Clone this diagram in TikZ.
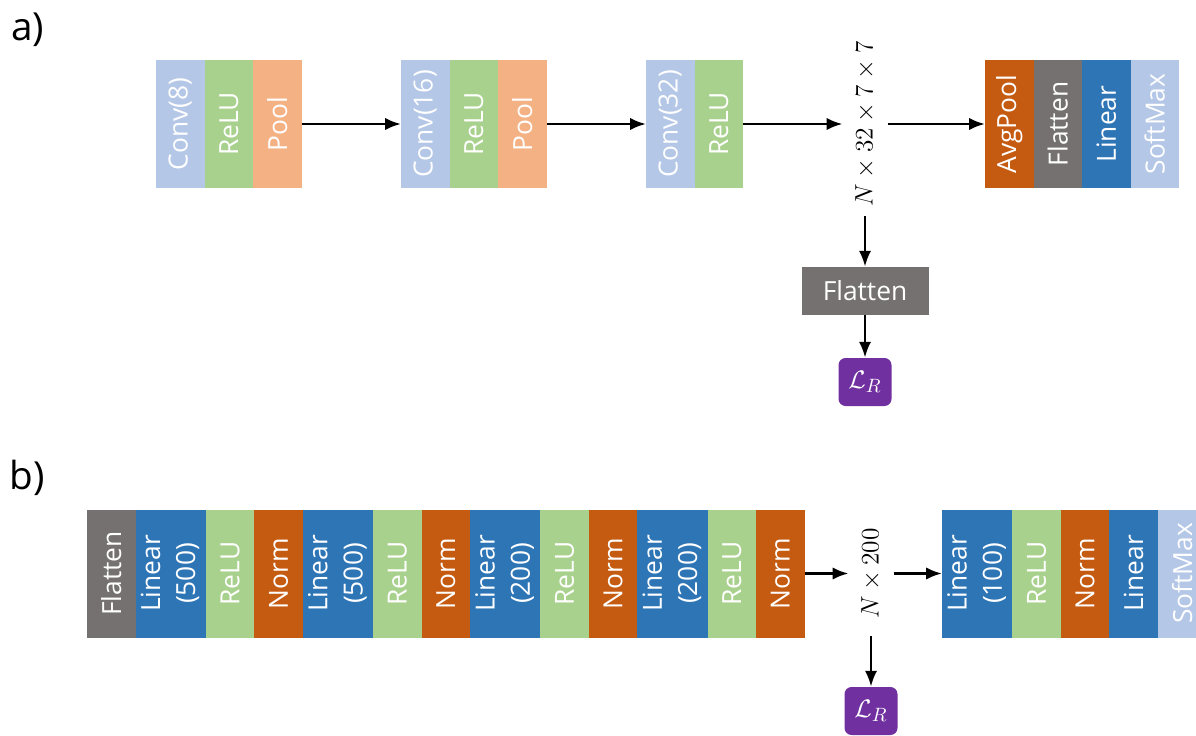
\documentclass[tikz,border=0pt]{standalone}
\usepackage{fontspec}
\setmainfont{Open Sans}
\usepackage{amsmath}
\usepackage{graphicx}
\usepackage{tikz}
\usetikzlibrary{positioning,arrows.meta}

\definecolor{convblue}{HTML}{B4C7E7}
\definecolor{relugreen}{HTML}{A9D18E}
\definecolor{poolorange}{HTML}{F4B183}
\definecolor{normorange}{HTML}{C55A11}
\definecolor{flatgray}{HTML}{767171}
\definecolor{linblue}{HTML}{2E75B6}
\definecolor{losspurple}{HTML}{7030A0}

\newcommand{\vlab}[1]{\rotatebox{90}{#1}}
\newcommand{\vtwo}[2]{\rotatebox{90}{\begin{tabular}{@{}c@{}}#1\\#2\end{tabular}}}

\tikzset{
    layer/.style={minimum width=0.97cm, minimum height=2.56cm, inner sep=0pt, outer sep=0pt,
        text=white, font=\fontsize{15}{20}\selectfont},
    widelayer/.style={layer, minimum width=1.4cm},
    dimtxt/.style={minimum width=0.9cm, inner sep=0pt, outer sep=0pt, font=\fontsize{15}{18}\selectfont},
    loss/.style={fill=losspurple, rounded corners=4pt, minimum width=1.06cm, minimum height=0.96cm,
        inner sep=0pt, text=white, font=\fontsize{15}{18}\selectfont},
    arr/.style={->, line width=1.5pt, >={Latex[length=9pt,width=7pt]}},
    panel/.style={font=\fontsize{22}{26}\selectfont}
}

\begin{document}
\begin{tikzpicture}
                \useasboundingbox (0,0) rectangle (23.92,-14.72);

                % a)
                \node[panel] (laba) at (0.55,-0.6) {a)};

                \node[layer, fill=convblue, anchor=west] (conva) at (3.12,-2.48) {\vlab{Conv(8)}};
                \node[layer, fill=relugreen, right=0pt of conva] (relua) {\vlab{ReLU}};
                \node[layer, fill=poolorange, right=0pt of relua] (poola) {\vlab{Pool}};

                \node[layer, fill=convblue, anchor=west] (convb) at (8.02,-2.48) {\vlab{Conv(16)}};
                \node[layer, fill=relugreen, right=0pt of convb] (relub) {\vlab{ReLU}};
                \node[layer, fill=poolorange, right=0pt of relub] (poolb) {\vlab{Pool}};

                \node[layer, fill=convblue, anchor=west] (convc) at (12.92,-2.48) {\vlab{Conv(32)}};
                \node[layer, fill=relugreen, right=0pt of convc] (reluc) {\vlab{ReLU}};

                \node[dimtxt] (dima) at (17.3,-2.48) {\vlab{$N\times 32\times 7\times 7$}};

                \node[layer, fill=normorange, anchor=west] (avgpool) at (19.7,-2.48) {\vlab{AvgPool}};
                \node[layer, fill=flatgray, right=0pt of avgpool] (flatc) {\vlab{Flatten}};
                \node[layer, fill=linblue, right=0pt of flatc] (linc) {\vlab{Linear}};
                \node[layer, fill=convblue, right=0pt of linc] (softa) {\vlab{SoftMax}};

                \node[fill=flatgray, text=white, minimum width=2.54cm, minimum height=0.96cm, inner sep=0pt,
                    font=\fontsize{15}{20}\selectfont] (flata) at (17.3,-5.82) {Flatten};
                \node[loss] (lossa) at (17.3,-7.64) {$\mathcal{L}_R$};

                \draw[arr] (poola) -- (convb);
                \draw[arr] (poolb) -- (convc);
                \draw[arr] (reluc) -- (dima);
                \draw[arr] (dima) -- (avgpool);
                \draw[arr, shorten <=0.2cm] (dima.south) -- (flata.north);
                \draw[arr] (flata) -- (lossa);

                % b)
                \node[panel] (labb) at (0.55,-9.55) {b)};

                \node[layer, fill=flatgray, anchor=west] (flatb) at (1.74,-11.47) {\vlab{Flatten}};
                \node[widelayer, fill=linblue, right=0pt of flatb] (lina) {\vtwo{Linear}{(500)}};
                \node[layer, fill=relugreen, right=0pt of lina] (relud) {\vlab{ReLU}};
                \node[layer, fill=normorange, right=0pt of relud] (norma) {\vlab{Norm}};
                \node[widelayer, fill=linblue, right=0pt of norma] (linb) {\vtwo{Linear}{(500)}};
                \node[layer, fill=relugreen, right=0pt of linb] (relue) {\vlab{ReLU}};
                \node[layer, fill=normorange, right=0pt of relue] (normb) {\vlab{Norm}};
                \node[widelayer, fill=linblue, right=0pt of normb] (lind) {\vtwo{Linear}{(200)}};
                \node[layer, fill=relugreen, right=0pt of lind] (reluf) {\vlab{ReLU}};
                \node[layer, fill=normorange, right=0pt of reluf] (normc) {\vlab{Norm}};
                \node[widelayer, fill=linblue, right=0pt of normc] (line) {\vtwo{Linear}{(200)}};
                \node[layer, fill=relugreen, right=0pt of line] (relug) {\vlab{ReLU}};
                \node[layer, fill=normorange, right=0pt of relug] (normd) {\vlab{Norm}};

                \node[dimtxt] (dimb) at (17.42,-11.47) {\vlab{$N\times 200$}};

                \node[widelayer, fill=linblue, anchor=west] (linf) at (18.84,-11.47) {\vtwo{Linear}{(100)}};
                \node[layer, fill=relugreen, right=0pt of linf] (reluh) {\vlab{ReLU}};
                \node[layer, fill=normorange, right=0pt of reluh] (norme) {\vlab{Norm}};
                \node[layer, fill=linblue, right=0pt of norme] (ling) {\vlab{Linear}};
                \node[layer, fill=convblue, right=0pt of ling] (softb) {\vlab{SoftMax}};

                \node[loss] (lossb) at (17.42,-14.22) {$\mathcal{L}_R$};

                \draw[arr] (normd) -- (dimb);
                \draw[arr] (dimb) -- (linf);
                \draw[arr, shorten <=0.35cm] (dimb.south) -- (lossb.north);

			\end{tikzpicture}
\end{document}
